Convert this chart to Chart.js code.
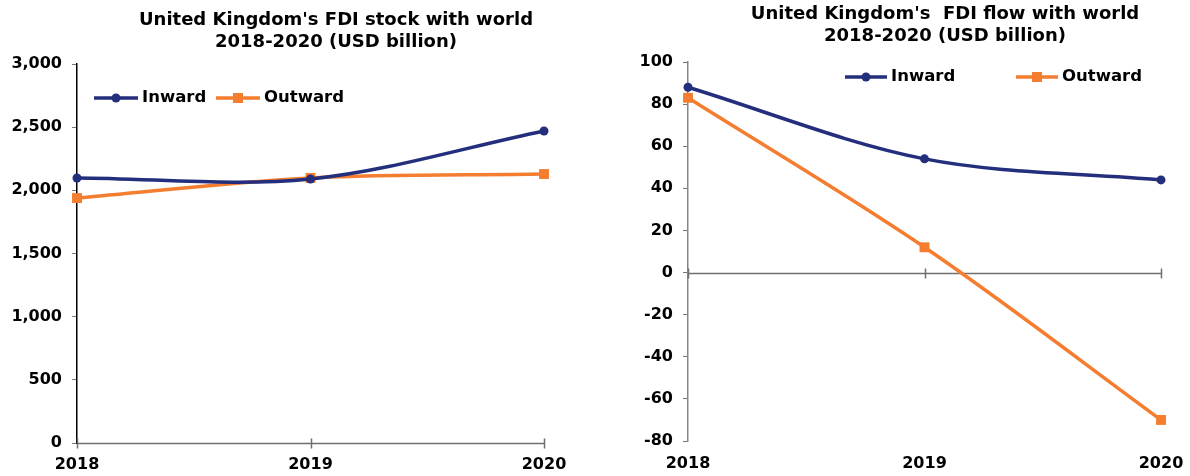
<!DOCTYPE html>
<html>
<head>
<meta charset="utf-8">
<script src="https://cdn.jsdelivr.net/npm/chart.js@4.4.0/dist/chart.umd.min.js"></script>
<style>
  body { margin: 0; background: #fff; }
  .box { position: absolute; top: 0; width: 595px; height: 476px; }
</style>
</head>
<body>
<div class="box" style="left:0"><canvas id="stockChart" width="595" height="476"></canvas></div>
<div class="box" style="left:595px"><canvas id="flowChart" width="595" height="476"></canvas></div>
<script>
// data tahun
const years = ["2018", "2019", "2020"];

// FDI stock (USD billion)
const stockInward = [2098, 2090, 2470];
const stockOutward = [1939, 2098, 2129];

// FDI flow (USD billion)
const flowInward = [88, 54, 44];
const flowOutward = [83, 12, -70];

const NAVY = "#232f7c";
const ORANGE = "#f47d30";
const FONT = "'DejaVu Sans', Verdana, sans-serif";

// judul dua baris di atas grafik
const titlePlugin = {
  id: "twoLineTitle",
  afterDraw(chart, args, opts) {
    const c = chart.ctx;
    c.save();
    c.font = "bold 18px " + FONT;
    c.fillStyle = "#000";
    c.textAlign = "center";
    c.textBaseline = "middle";
    opts.lines.forEach((t, i) => c.fillText(t, opts.x, opts.y[i]));
    c.restore();
  },
};

// garis sumbu nol + tanda kategori
const zeroLinePlugin = {
  id: "zeroLine",
  beforeDatasetsDraw(chart) {
    const { ctx: c, chartArea, scales } = chart;
    const y = Math.round(scales.y.getPixelForValue(0)) + 0.5;
    c.save();
    c.strokeStyle = "#6f6f6f";
    c.lineWidth = 1.5;
    c.beginPath();
    c.moveTo(chartArea.left, y);
    c.lineTo(chartArea.right, y);
    years.forEach((_, i) => {
      const x = Math.round(scales.x.getPixelForValue(i)) + 0.5;
      c.moveTo(x, y - 5);
      c.lineTo(x, y + 5);
    });
    c.stroke();
    c.restore();
  },
};

// legenda di dalam area grafik
const legendPlugin = {
  id: "innerLegend",
  afterDraw(chart, args, opts) {
    const c = chart.ctx;
    c.save();
    c.font = "bold 16.5px " + FONT;
    c.textBaseline = "middle";
    chart.data.datasets.forEach((ds, i) => {
      const x = opts.x[i];
      const y = opts.y;
      c.strokeStyle = ds.borderColor;
      c.lineWidth = 3.5;
      c.beginPath();
      c.moveTo(x, y);
      c.lineTo(x + opts.lineLen, y);
      c.stroke();
      c.fillStyle = ds.borderColor;
      const mx = x + opts.lineLen / 2;
      if (ds.pointStyle === "rect") {
        c.fillRect(mx - 5, y - 5, 10, 10);
      } else {
        c.beginPath();
        c.arc(mx, y, 4.5, 0, Math.PI * 2);
        c.fill();
      }
      c.fillStyle = "#000";
      c.fillText(ds.label, x + opts.lineLen + 4, y);
    });
    c.restore();
  },
};

function makeDatasets(inward, outward) {
  return [
    {
      label: "Inward",
      data: inward,
      borderColor: NAVY,
      backgroundColor: NAVY,
      borderWidth: 3.5,
      pointStyle: "circle",
      pointRadius: 4.5,
      pointHoverRadius: 4.5,
      pointBorderWidth: 0,
      tension: 0.33,
      clip: false,
    },
    {
      label: "Outward",
      data: outward,
      borderColor: ORANGE,
      backgroundColor: ORANGE,
      borderWidth: 3.5,
      pointStyle: "rect",
      pointRadius: 7,
      pointHoverRadius: 7,
      pointBorderWidth: 0,
      tension: 0.33,
      clip: false,
    },
  ];
}

function makeOptions(cfg) {
  return {
    responsive: false,
    animation: false,
    layout: { padding: { top: cfg.top, right: cfg.right, bottom: 0, left: 0 } },
    plugins: {
      legend: { display: false },
      title: { display: false },
      tooltip: { enabled: false },
      twoLineTitle: cfg.title,
      innerLegend: cfg.legend,
    },
    scales: {
      x: {
        offset: false,
        grid: { display: false },
        border: { display: false },
        ticks: { color: "#000", padding: cfg.xPad, font: { family: FONT, size: 16, weight: "bold" } },
        afterFit: (s) => { s.height = cfg.xHeight; },
      },
      y: {
        min: cfg.min,
        max: cfg.max,
        ticks: {
          stepSize: cfg.step,
          color: "#000",
          padding: 10,
          font: { family: FONT, size: 16, weight: "bold" },
        },
        grid: { drawOnChartArea: false, tickLength: 5, color: "#777", lineWidth: 1 },
        border: { color: cfg.axisColor, width: cfg.axisWidth },
        afterFit: (s) => { s.width = cfg.yWidth; },
      },
    },
  };
}

// grafik stok FDI
new Chart(document.getElementById("stockChart").getContext("2d"), {
  type: "line",
  data: { labels: years, datasets: makeDatasets(stockInward, stockOutward) },
  options: makeOptions({
    top: 64, right: 51, xHeight: 33, yWidth: 77, xPad: 4,
    min: 0, max: 3000, step: 500,
    axisColor: "#000", axisWidth: 1.5,
    title: {
      lines: ["United Kingdom's FDI stock with world", "2018-2020 (USD billion)"],
      x: 336, y: [20, 42],
    },
    legend: { x: [94, 216], y: 98, lineLen: 44 },
  }),
  plugins: [titlePlugin, zeroLinePlugin, legendPlugin],
});

// grafik arus FDI
new Chart(document.getElementById("flowChart").getContext("2d"), {
  type: "line",
  data: { labels: years, datasets: makeDatasets(flowInward, flowOutward) },
  options: makeOptions({
    top: 62, right: 29, xHeight: 35, yWidth: 93, xPad: 5,
    min: -80, max: 100, step: 20,
    axisColor: "#868686", axisWidth: 1.5,
    title: {
      lines: ["United Kingdom's  FDI flow with world", "2018-2020 (USD billion)"],
      x: 350, y: [14, 36],
    },
    legend: { x: [250, 421], y: 77, lineLen: 42 },
  }),
  plugins: [titlePlugin, zeroLinePlugin, legendPlugin],
});
</script>
</body>
</html>
